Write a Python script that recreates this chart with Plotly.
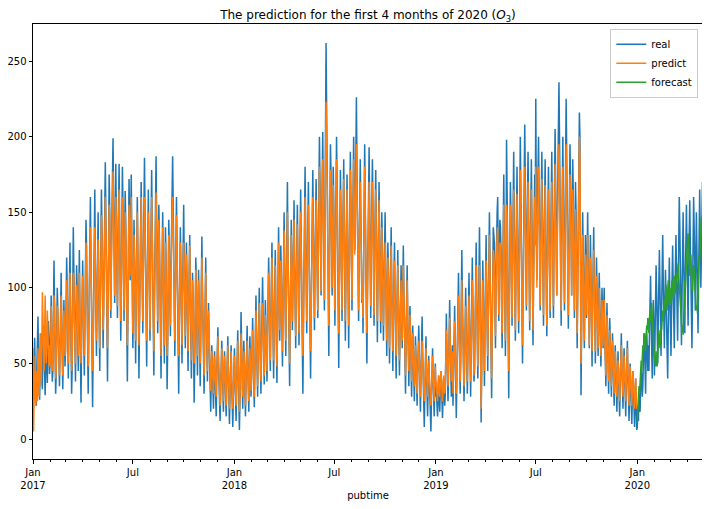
import pandas as pd
import plotly.graph_objects as go

# daily O3 values (one line per month)
real_2017 = [
    35, 28, 52, 67, 45, 30, 22, 48, 72, 81, 55, 38, 26, 44, 63, 70, 49, 33, 58, 75, 62, 40, 29, 46, 68, 54, 37, 60, 78, 65, 43,
    50, 72, 95, 60, 38, 45, 80, 118, 90, 55, 30, 42, 68, 100, 85, 62, 47, 35, 58, 88, 110, 76, 50, 33, 65, 92, 70, 48,
    60, 85, 120, 98, 55, 40, 72, 105, 130, 88, 62, 30, 48, 95, 140, 112, 75, 52, 38, 80, 115, 100, 68, 45, 92, 125, 83, 58, 24, 66, 102,
    118, 90, 60, 42, 75, 110, 145, 128, 85, 52, 30, 68, 100, 135, 160, 122, 80, 48, 21, 62, 98, 140, 165, 118, 76, 55, 88, 120, 150, 104,
    70, 45, 92, 130, 165, 140, 98, 60, 85, 125, 160, 183, 150, 105, 72, 38, 88, 135, 175, 152, 110, 80, 120, 165, 185, 199, 160, 118, 90, 140, 182,
    150, 115, 80, 120, 170, 182, 140, 100, 65, 95, 135, 180, 155, 110, 78, 125, 164, 145, 98, 60, 38, 85, 130, 172, 148, 105, 140, 175, 130, 90,
    60, 100, 145, 120, 82, 50, 95, 140, 160, 125, 88, 40, 78, 118, 150, 170, 132, 96, 70, 115, 155, 186, 150, 110, 75, 48, 95, 138, 165, 125, 90,
    65, 110, 150, 178, 140, 100, 72, 42, 88, 130, 160, 187, 145, 105, 70, 120, 155, 135, 92, 60, 40, 85, 125, 150, 115, 80, 50, 95, 140, 120, 85,
    33, 60, 105, 145, 125, 90, 68, 110, 150, 170, 187, 155, 118, 80, 55, 95, 138, 160, 128, 85, 52, 30, 75, 115, 140, 110, 78, 50, 92, 125,
    155, 120, 88, 60, 100, 130, 105, 70, 45, 85, 118, 135, 98, 65, 40, 72, 110, 95, 60, 24, 50, 88, 120, 100, 68, 42, 78, 112, 90, 58, 35,
    70, 105, 134, 100, 72, 48, 30, 62, 98, 120, 85, 55, 38, 68, 90, 70, 45, 25, 18, 40, 62, 48, 30, 20, 45, 58, 38, 22, 15, 42,
    60, 74, 52, 35, 20, 12, 30, 48, 65, 50, 33, 18, 40, 58, 45, 28, 15, 35, 55, 68, 44, 25, 10, 30, 50, 62, 38, 20, 8, 28, 45,
]
real_2018 = [
    60, 40, 22, 12, 35, 55, 72, 48, 28, 6, 25, 48, 84, 62, 38, 20, 42, 65, 50, 30, 15, 38, 58, 75, 52, 33, 18, 45, 68, 50, 28,
    40, 62, 80, 55, 35, 21, 45, 70, 95, 68, 42, 28, 55, 82, 100, 72, 48, 30, 58, 88, 107, 80, 52, 36, 65, 92, 75, 50,
    38, 70, 98, 120, 90, 62, 45, 80, 110, 130, 95, 68, 40, 75, 105, 125, 88, 55, 37, 72, 115, 140, 100, 65, 92, 128, 108, 70, 48, 85, 120,
    150, 115, 80, 55, 95, 135, 170, 125, 85, 50, 35, 78, 120, 145, 110, 72, 98, 140, 158, 118, 82, 60, 100, 132, 155, 120, 88, 62, 105, 138,
    165, 128, 90, 55, 30, 75, 118, 150, 180, 140, 100, 70, 112, 148, 170, 132, 95, 60, 40, 85, 125, 160, 178, 135, 98, 72, 118, 152, 172, 140, 105,
    80, 125, 165, 200, 170, 130, 95, 140, 185, 203, 160, 120, 85, 145, 190, 262, 220, 170, 125, 90, 55, 105, 150, 195, 175, 130, 95, 135, 180, 155,
    110, 75, 120, 165, 200, 170, 125, 85, 47, 95, 140, 178, 150, 110, 78, 125, 160, 185, 145, 100, 65, 110, 155, 175, 140, 98, 60, 105, 150, 190, 160,
    120, 85, 130, 170, 200, 165, 125, 150, 190, 226, 180, 140, 100, 78, 120, 165, 185, 150, 115, 90, 100, 70, 115, 160, 195, 158, 118, 80, 50, 95, 140,
    175, 193, 155, 115, 80, 125, 165, 185, 150, 110, 75, 120, 160, 178, 140, 100, 64, 105, 145, 170, 135, 95, 70, 112, 150, 128, 90, 65, 100, 138,
    150, 115, 80, 55, 95, 130, 110, 78, 50, 88, 120, 140, 105, 72, 45, 80, 115, 130, 95, 65, 40, 75, 105, 125, 92, 60, 42, 70, 98, 115, 85,
    60, 95, 128, 100, 70, 45, 30, 65, 95, 115, 80, 52, 35, 62, 88, 70, 45, 28, 50, 75, 60, 38, 25, 48, 68, 55, 33, 22, 42, 60,
    75, 55, 35, 18, 40, 62, 81, 58, 38, 20, 8, 30, 52, 68, 45, 28, 15, 35, 55, 42, 25, 12, 5, 28, 48, 60, 40, 22, 15, 35, 50,
]
real_2019 = [
    28, 35, 22, 15, 30, 42, 25, 18, 32, 45, 38, 20, 14, 28, 40, 33, 22, 30, 55, 83, 60, 38, 25, 45, 70, 92, 65, 40, 28, 50, 62,
    22, 45, 70, 88, 60, 38, 14, 40, 65, 90, 110, 78, 50, 30, 55, 82, 125, 95, 65, 40, 25, 50, 78, 100, 72, 45, 30, 58,
    85, 110, 80, 50, 28, 60, 95, 120, 90, 62, 38, 45, 78, 105, 130, 98, 65, 40, 72, 108, 140, 105, 70, 11, 48, 85, 118, 95, 60, 35, 75,
    110, 135, 100, 68, 45, 85, 125, 150, 120, 80, 50, 27, 70, 115, 140, 135, 130, 90, 60, 105, 145, 150, 160, 115, 78, 120, 145, 140, 125, 95,
    60, 100, 145, 175, 130, 90, 55, 95, 198, 165, 125, 85, 27, 80, 130, 170, 150, 110, 75, 115, 160, 190, 145, 100, 65, 110, 155, 180, 140, 98, 70,
    115, 160, 200, 165, 120, 80, 50, 95, 140, 175, 208, 170, 125, 85, 130, 165, 190, 150, 105, 72, 118, 160, 185, 145, 100, 62, 108, 150, 175, 135,
    225, 150, 105, 150, 180, 200, 160, 120, 85, 130, 170, 190, 150, 110, 75, 125, 165, 185, 140, 100, 68, 115, 155, 180, 145, 105, 80, 125, 165, 190, 150,
    110, 80, 130, 175, 205, 170, 130, 95, 140, 185, 215, 236, 200, 150, 110, 75, 125, 170, 200, 160, 120, 85, 135, 178, 225, 190, 145, 100, 73, 120, 165,
    195, 170, 130, 95, 140, 185, 160, 118, 80, 125, 170, 150, 105, 60, 100, 145, 190, 216, 200, 120, 29, 70, 115, 150, 120, 85, 60, 100, 135, 110,
    80, 120, 150, 115, 85, 60, 98, 135, 110, 75, 48, 90, 125, 140, 105, 72, 50, 88, 120, 98, 68, 55, 85, 110, 90, 62, 48, 75, 100, 82, 60,
    85, 100, 70, 50, 35, 62, 90, 72, 48, 30, 55, 80, 65, 42, 28, 50, 70, 55, 35, 22, 45, 62, 48, 30, 18, 40, 58, 42, 28, 15,
    35, 55, 70, 50, 32, 20, 40, 60, 45, 28, 15, 35, 55, 65, 42, 25, 12, 30, 50, 38, 22, 10, 28, 45, 35, 18, 8, 25, 40, 20, 6,
]
real_2020 = [
    8, 22, 12, 30, 25, 18, 35, 48, 40, 28, 35, 55, 70, 65, 42, 30, 58, 72, 60, 45, 62, 45, 70, 95, 108, 80, 55, 40, 68, 92, 75,
    42, 65, 90, 115, 98, 72, 50, 80, 105, 125, 100, 75, 55, 85, 110, 135, 105, 78, 60, 88, 112, 95, 70, 50, 40, 72, 100, 120, 95,
    70, 55, 85, 112, 128, 100, 78, 60, 92, 118, 135, 110, 85, 65, 98, 125, 160, 140, 110, 80, 62, 95, 128, 150, 120, 90, 70, 105, 135, 155, 125,
    95, 75, 110, 140, 158, 130, 100, 80, 60, 95, 130, 160, 140, 110, 85, 120, 150, 125, 95, 70, 105, 140, 165, 135, 100, 120, 150, 170, 160,
]

predict_2017 = [
    60, 5, 25, 40, 55, 22, 30, 45, 25, 60, 42, 28, 55, 70, 48, 35, 62, 97, 80, 55, 45, 65, 95, 72, 50, 62, 85, 70, 55, 48, 62,
    48, 65, 88, 70, 45, 48, 72, 95, 88, 62, 40, 45, 62, 88, 85, 66, 50, 42, 55, 80, 95, 80, 58, 42, 60, 85, 75, 55,
    58, 78, 105, 95, 65, 50, 68, 95, 110, 90, 68, 45, 52, 85, 110, 108, 80, 60, 50, 75, 102, 98, 72, 55, 85, 110, 88, 65, 50, 65, 95,
    108, 92, 68, 55, 72, 100, 130, 122, 90, 62, 48, 65, 92, 120, 140, 118, 85, 60, 45, 62, 90, 125, 140, 115, 82, 65, 85, 110, 132, 105,
    78, 60, 88, 118, 148, 135, 100, 72, 85, 115, 145, 160, 140, 105, 80, 60, 85, 125, 155, 145, 110, 85, 115, 150, 168, 177, 150, 115, 95, 130, 160,
    145, 112, 88, 115, 155, 165, 135, 102, 78, 95, 125, 160, 145, 110, 85, 118, 150, 138, 100, 72, 62, 88, 122, 155, 140, 108, 130, 160, 128, 95,
    70, 98, 135, 118, 88, 65, 92, 130, 150, 122, 90, 62, 80, 112, 140, 160, 130, 98, 78, 110, 140, 160, 140, 108, 80, 65, 92, 128, 150, 120, 92,
    72, 105, 140, 160, 135, 100, 78, 58, 88, 122, 150, 163, 138, 104, 78, 115, 145, 130, 95, 70, 55, 85, 118, 140, 112, 85, 62, 92, 130, 115, 88,
    55, 65, 100, 135, 120, 92, 75, 105, 140, 150, 160, 145, 115, 85, 65, 92, 128, 148, 122, 88, 62, 55, 78, 110, 130, 108, 80, 62, 90, 118,
    130, 115, 90, 68, 98, 122, 105, 78, 58, 85, 112, 128, 100, 72, 52, 72, 105, 95, 68, 50, 58, 85, 112, 98, 72, 55, 78, 105, 90, 65, 50,
    68, 98, 120, 98, 75, 55, 42, 62, 92, 110, 85, 62, 45, 65, 85, 70, 50, 35, 32, 42, 58, 50, 38, 30, 45, 55, 42, 32, 28, 42,
    55, 68, 55, 40, 28, 22, 32, 48, 60, 52, 38, 25, 40, 55, 48, 32, 22, 35, 52, 62, 45, 30, 20, 32, 48, 58, 40, 28, 20, 30, 42,
]
predict_2018 = [
    55, 42, 30, 22, 35, 50, 65, 50, 35, 18, 28, 45, 70, 60, 42, 28, 40, 58, 50, 35, 22, 38, 52, 65, 52, 38, 25, 42, 60, 50, 32,
    40, 55, 72, 55, 40, 28, 45, 65, 85, 68, 45, 35, 52, 75, 90, 70, 50, 38, 55, 78, 90, 75, 55, 42, 62, 82, 72, 52,
    45, 65, 90, 110, 88, 65, 52, 75, 100, 120, 95, 72, 52, 72, 98, 115, 88, 62, 48, 70, 105, 130, 100, 72, 88, 118, 105, 75, 58, 82, 110,
    138, 112, 85, 65, 90, 125, 150, 122, 88, 62, 50, 78, 112, 135, 108, 78, 95, 130, 145, 115, 85, 68, 98, 125, 142, 118, 90, 70, 100, 128,
    150, 125, 92, 68, 55, 75, 110, 140, 160, 135, 102, 78, 108, 140, 155, 128, 95, 70, 58, 85, 118, 148, 160, 130, 100, 80, 115, 142, 158, 135, 105,
    85, 120, 152, 180, 160, 128, 98, 135, 170, 185, 155, 120, 92, 138, 175, 223, 200, 160, 122, 95, 75, 102, 142, 178, 165, 128, 100, 130, 168, 150,
    112, 85, 118, 152, 185, 162, 125, 92, 70, 95, 132, 165, 145, 110, 85, 120, 150, 172, 140, 102, 78, 108, 145, 165, 138, 100, 75, 102, 140, 178, 155,
    120, 92, 125, 158, 185, 158, 122, 140, 172, 195, 168, 135, 102, 85, 118, 150, 170, 145, 115, 92, 100, 80, 112, 150, 180, 150, 115, 88, 70, 95, 132,
    160, 170, 148, 112, 88, 120, 155, 170, 142, 108, 82, 115, 150, 165, 135, 100, 78, 102, 138, 158, 130, 95, 78, 108, 140, 122, 92, 75, 98, 130,
    130, 112, 85, 65, 92, 120, 105, 80, 60, 85, 112, 128, 100, 75, 58, 80, 108, 118, 92, 68, 55, 75, 100, 115, 90, 65, 52, 70, 92, 105, 82,
    65, 90, 115, 95, 72, 52, 42, 65, 88, 105, 80, 58, 45, 62, 82, 68, 50, 38, 52, 70, 58, 42, 35, 48, 62, 52, 38, 30, 42, 55,
    65, 52, 40, 28, 40, 55, 65, 52, 40, 28, 25, 35, 50, 60, 45, 32, 28, 38, 52, 42, 30, 25, 22, 32, 45, 55, 40, 30, 25, 35, 48,
]
predict_2019 = [
    35, 38, 30, 25, 32, 42, 35, 28, 35, 45, 40, 30, 25, 32, 42, 38, 30, 35, 50, 72, 58, 45, 35, 48, 65, 80, 62, 45, 38, 52, 58,
    30, 45, 62, 78, 60, 42, 30, 42, 60, 80, 95, 72, 52, 38, 52, 75, 105, 85, 62, 45, 35, 50, 70, 88, 68, 48, 38, 55,
    75, 95, 75, 52, 38, 58, 85, 105, 85, 62, 42, 48, 72, 95, 115, 90, 65, 48, 70, 98, 115, 95, 68, 20, 45, 80, 105, 88, 62, 45, 70,
    98, 118, 95, 70, 55, 82, 112, 135, 112, 82, 60, 40, 68, 105, 125, 122, 115, 88, 68, 100, 130, 135, 140, 108, 82, 112, 130, 128, 115, 92,
    70, 98, 130, 155, 122, 90, 65, 92, 155, 150, 118, 85, 45, 80, 120, 155, 140, 105, 80, 110, 145, 165, 132, 98, 72, 105, 140, 162, 130, 98, 78,
    108, 145, 178, 150, 115, 85, 62, 92, 130, 158, 180, 152, 118, 88, 122, 150, 170, 138, 100, 78, 110, 145, 165, 135, 98, 72, 102, 138, 160, 128,
    180, 130, 100, 138, 162, 180, 148, 115, 88, 122, 155, 172, 140, 105, 82, 118, 150, 168, 132, 98, 75, 108, 142, 165, 135, 102, 85, 118, 150, 170, 140,
    108, 88, 122, 158, 182, 155, 122, 95, 130, 165, 190, 195, 178, 140, 108, 85, 118, 155, 180, 148, 115, 90, 125, 160, 195, 170, 135, 100, 82, 112, 150,
    175, 158, 122, 95, 128, 165, 148, 112, 85, 115, 152, 138, 100, 70, 95, 130, 170, 200, 185, 110, 50, 72, 105, 135, 112, 85, 65, 92, 122, 102,
    82, 110, 135, 108, 82, 62, 90, 120, 102, 75, 58, 85, 112, 125, 98, 72, 58, 82, 108, 92, 68, 60, 80, 100, 85, 65, 55, 72, 92, 78, 62,
    78, 92, 70, 55, 42, 60, 82, 68, 50, 38, 55, 72, 62, 45, 35, 50, 65, 55, 40, 30, 45, 58, 48, 35, 28, 40, 52, 45, 32, 25,
    38, 52, 62, 50, 38, 28, 40, 55, 45, 32, 25, 38, 52, 60, 45, 32, 22, 35, 48, 40, 28, 22, 32, 45, 38, 25, 20, 30, 40, 28, 20,
]

forecast_2020 = [
    12, 18, 28, 35, 30, 40, 48, 52, 45, 55, 62, 58, 65, 70, 62, 58, 68, 75, 72, 80, 75, 70, 80, 85, 78, 88, 90, 82, 72, 65, 60,
    55, 52, 48, 58, 50, 48, 55, 65, 72, 68, 60, 65, 75, 72, 80, 85, 78, 88, 92, 85, 95, 102, 92, 85, 98, 105, 95, 88, 100,
    95, 90, 98, 105, 100, 92, 100, 108, 102, 96, 104, 110, 106, 112, 116, 108, 100, 92, 85, 78, 72, 70, 75, 69, 80, 92, 105, 100, 112, 120, 128,
    132, 136, 125, 115, 108, 118, 122, 112, 105, 98, 108, 115, 110, 102, 95, 90, 85, 88, 83, 95, 110, 122, 118, 130, 140, 147, 135, 142, 150,
]

tick_dates = ["2017-01-01", "2017-07-01", "2018-01-01", "2018-07-01",
              "2019-01-01", "2019-07-01", "2020-01-01"]
tick_labels = ["Jan<br>2017", "Jul", "Jan<br>2018", "Jul", "Jan<br>2019", "Jul", "Jan<br>2020"]

real = real_2017 + real_2018 + real_2019 + real_2020
predict = predict_2017 + predict_2018 + predict_2019
forecast = forecast_2020

real_x = pd.date_range("2017-01-01", periods=len(real), freq="D")
predict_x = pd.date_range("2017-01-01", periods=len(predict), freq="D")
forecast_x = pd.date_range("2020-01-01", periods=len(forecast), freq="D")

fig = go.Figure()
fig.add_trace(go.Scatter(x=real_x, y=real, mode="lines", name="real",
                         line=dict(color="#1f77b4", width=1.5)))
fig.add_trace(go.Scatter(x=predict_x, y=predict, mode="lines", name="predict",
                         line=dict(color="#ff7f0e", width=1.5)))
fig.add_trace(go.Scatter(x=forecast_x, y=forecast, mode="lines", name="forecast",
                         line=dict(color="#2ca02c", width=1.5)))

axis_style = dict(showline=True, mirror=True, linecolor="black", linewidth=1,
                  ticks="outside", ticklen=3.5, tickcolor="black",
                  showgrid=False, zeroline=False, automargin=False,
                  tickfont=dict(size=10, color="black"))

# the page body adds an 8px offset, so the figure is 8px smaller than the window
fig.update_layout(
    width=702, height=501,
    margin=dict(l=25, r=7, t=16, b=50, pad=0),
    plot_bgcolor="white", paper_bgcolor="white",
    font=dict(family="DejaVu Sans", size=10, color="black"),
    title=dict(text="The prediction for the first 4 months of 2020 (<i>O</i><sub>3</sub>)",
               x=0.5, xref="paper", y=1 - 7 / 501, yref="container",
               xanchor="center", yanchor="middle",
               font=dict(size=12, color="black")),
    showlegend=True,
    legend=dict(x=0.993, y=0.989, xanchor="right", yanchor="top",
                bgcolor="rgba(255,255,255,0.8)", bordercolor="#cccccc", borderwidth=1,
                font=dict(size=10), itemwidth=30, tracegroupgap=0),
)
fig.update_xaxes(**axis_style, range=["2017-01-01", "2020-04-29"],
                 tickvals=tick_dates, ticktext=tick_labels,
                 minor=dict(ticks="outside", ticklen=2, tickcolor="black",
                            dtick="M1", tick0="2017-01-01", showgrid=False),
                 title=dict(text="pubtime", font=dict(size=10), standoff=2))
fig.update_yaxes(**axis_style, range=[-13.2, 274.5], tickvals=[0, 50, 100, 150, 200, 250])

fig.write_html("out.html")
